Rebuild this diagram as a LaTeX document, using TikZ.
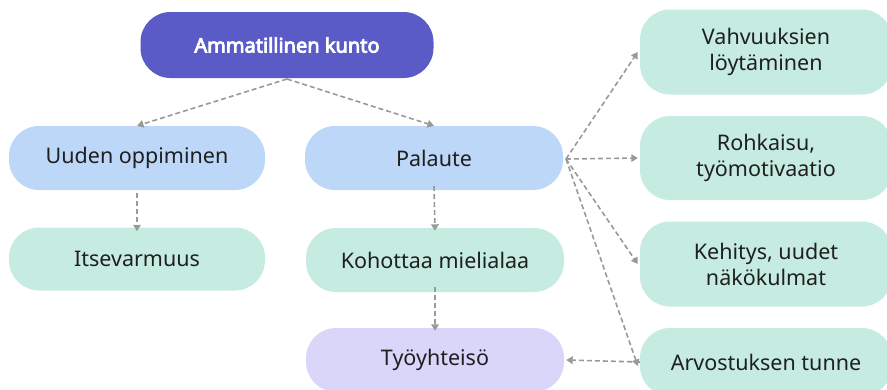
\documentclass[tikz,border=0pt]{standalone}
\usepackage{fontspec}
\setmainfont{Noto Sans}
\newfontfamily\boldf{Noto Sans}[FakeBold=4]
\usetikzlibrary{arrows.meta}
\definecolor{indigoc}{HTML}{5B5BC8}
\definecolor{bluec}{HTML}{BCD7F8}
\definecolor{mintc}{HTML}{C6ECE1}
\definecolor{lavc}{HTML}{DAD6FA}
\definecolor{arrc}{HTML}{999999}
\begin{document}
\begin{tikzpicture}[x=1pt,y=-1pt,
  box/.style={rounded corners=30pt, draw=none, align=center, inner sep=0pt,
    font=\fontsize{21.5}{26}\selectfont, text=black!88},
  conn/.style={draw=arrc, dashed, dash pattern=on 5pt off 3pt, line width=1.6pt,
    -{Triangle[width=7.5pt,length=6.5pt]}}]
\useasboundingbox (0,0) rectangle (887,389);
\begin{scope}
\clip (0,0) rectangle (887,389);
\node[box, fill=indigoc, minimum width=293pt, minimum height=66pt, text=white,
  font=\fontsize{20}{24}\boldf] (top) at (287,45) {Ammatillinen kunto};
\node[box, fill=bluec, minimum width=256pt, minimum height=64pt] (uuden) at (137,158) {Uuden oppiminen};
\node[box, fill=bluec, minimum width=258pt, minimum height=64pt] (pal) at (434,158) {Palaute};
\node[box, fill=mintc, minimum width=256pt, minimum height=63pt] (itse) at (137,259) {Itsevarmuus};
\node[box, fill=mintc, minimum width=258pt, minimum height=64pt] (koh) at (435,260) {Kohottaa mielialaa};
\node[box, fill=lavc, minimum width=258pt, minimum height=64pt] (tyo) at (435,360) {Työyhteisö};
\node[box, fill=mintc, minimum width=252pt, minimum height=85pt] (vah) at (766,52) {Vahvuuksien\\löytäminen};
\node[box, fill=mintc, minimum width=252pt, minimum height=84pt] (roh) at (766,158) {Rohkaisu,\\työmotivaatio};
\node[box, fill=mintc, minimum width=252pt, minimum height=85pt] (keh) at (766,264) {Kehitys, uudet\\näkökulmat};
\node[box, fill=mintc, minimum width=252pt, minimum height=68pt] (arv) at (766,362) {Arvostuksen tunne};
\end{scope}
\coordinate (tb) at (287,79);
\coordinate (pr) at (566,159);
\draw[conn] (tb) -- (uuden.north);
\draw[conn] (tb) -- (pal.north);
\draw[conn] (uuden.south) ++(0,3) -- ([yshift=-4pt]itse.north);
\draw[conn] ([yshift=4pt]pal.south) -- ([yshift=-3pt]koh.north);
\draw[conn] ([yshift=5pt]koh.south) -- ([yshift=-3pt]tyo.north);
\draw[conn] (pr) -- ([xshift=-2pt]vah.west);
\draw[conn] (pr) -- ([xshift=-2pt]roh.west);
\draw[conn] (pr) -- ([xshift=-2pt]keh.west);
\draw[conn] (pr) -- ([xshift=-2pt,yshift=-4pt]arv.west);
\draw[conn] (arv.west) -- ([xshift=2pt]tyo.east);
\end{tikzpicture}
\end{document}
